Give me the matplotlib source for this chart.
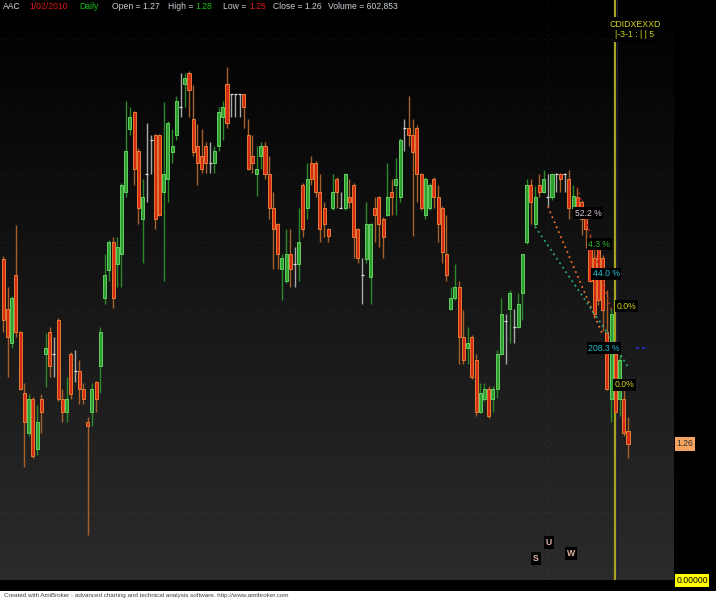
import numpy as np
import matplotlib.pyplot as plt
from matplotlib.colors import LinearSegmentedColormap

plt.rcParams['font.family'] = ['Liberation Sans', 'DejaVu Sans']

# daily bars, AAC
opens = [1.397, 1.360, 1.335, 1.385, 1.343, 1.298, 1.268, 1.293, 1.256, 1.293,
         1.327, 1.343, 1.327, 1.352, 1.293, 1.284, 1.327, 1.314, 1.314, 1.301,
         1.276, 1.284, 1.306, 1.318, 1.368, 1.389, 1.410, 1.393, 1.401, 1.447,
         1.493, 1.506, 1.477, 1.427, 1.460, 1.485, 1.489, 1.489, 1.447, 1.456,
         1.476, 1.489, 1.510, 1.527, 1.535, 1.501, 1.481, 1.473, 1.481, 1.468,
         1.468, 1.481, 1.502, 1.527, 1.519, 1.519, 1.519, 1.519, 1.489, 1.473,
         1.460, 1.473, 1.481, 1.460, 1.435, 1.423, 1.390, 1.381, 1.401, 1.393,
         1.393, 1.452, 1.435, 1.468, 1.468, 1.447, 1.435, 1.419, 1.435, 1.456,
         1.435, 1.435, 1.443, 1.452, 1.419, 1.385, 1.397, 1.384, 1.435, 1.443,
         1.427, 1.430, 1.447, 1.452, 1.443, 1.494, 1.494, 1.489, 1.494, 1.460,
         1.430, 1.435, 1.456, 1.443, 1.435, 1.401, 1.360, 1.368, 1.376, 1.339,
         1.331, 1.339, 1.322, 1.284, 1.293, 1.301, 1.293, 1.301, 1.327, 1.351,
         1.360, 1.347, 1.347, 1.372, 1.410, 1.452, 1.423, 1.452, 1.447, 1.443,
         1.443, 1.460, 1.460, 1.460, 1.456, 1.435, 1.443, 1.439, 1.427, 1.405,
         1.398, 1.405, 1.398, 1.343, 1.293, 1.327, 1.293, 1.293, 1.270]
highs = [1.399, 1.376, 1.370, 1.422, 1.344, 1.305, 1.297, 1.295, 1.289, 1.297,
         1.342, 1.347, 1.339, 1.353, 1.301, 1.310, 1.328, 1.330, 1.322, 1.305,
         1.280, 1.305, 1.307, 1.347, 1.401, 1.411, 1.413, 1.413, 1.453, 1.514,
         1.510, 1.507, 1.479, 1.456, 1.498, 1.489, 1.490, 1.490, 1.513, 1.499,
         1.493, 1.518, 1.535, 1.535, 1.536, 1.526, 1.497, 1.493, 1.484, 1.484,
         1.481, 1.510, 1.514, 1.539, 1.519, 1.519, 1.519, 1.519, 1.501, 1.489,
         1.481, 1.484, 1.484, 1.473, 1.447, 1.424, 1.401, 1.419, 1.419, 1.406,
         1.435, 1.453, 1.468, 1.473, 1.470, 1.460, 1.439, 1.420, 1.460, 1.458,
         1.447, 1.461, 1.456, 1.453, 1.420, 1.398, 1.439, 1.424, 1.443, 1.444,
         1.428, 1.468, 1.456, 1.472, 1.487, 1.501, 1.518, 1.501, 1.496, 1.461,
         1.458, 1.453, 1.458, 1.452, 1.436, 1.430, 1.376, 1.393, 1.381, 1.359,
         1.347, 1.341, 1.327, 1.305, 1.305, 1.303, 1.303, 1.330, 1.368, 1.356,
         1.374, 1.360, 1.372, 1.401, 1.456, 1.456, 1.451, 1.460, 1.463, 1.460,
         1.461, 1.461, 1.461, 1.461, 1.463, 1.452, 1.450, 1.441, 1.430, 1.415,
         1.404, 1.407, 1.400, 1.374, 1.361, 1.337, 1.326, 1.300, 1.280]
lows = [1.343, 1.310, 1.331, 1.339, 1.300, 1.243, 1.266, 1.250, 1.252, 1.268,
        1.302, 1.310, 1.310, 1.292, 1.276, 1.276, 1.293, 1.306, 1.290, 1.290,
        1.193, 1.273, 1.284, 1.298, 1.364, 1.381, 1.361, 1.376, 1.376, 1.443,
        1.489, 1.452, 1.423, 1.394, 1.439, 1.460, 1.419, 1.429, 1.381, 1.439,
        1.468, 1.485, 1.502, 1.510, 1.502, 1.473, 1.452, 1.461, 1.461, 1.461,
        1.461, 1.477, 1.485, 1.494, 1.502, 1.502, 1.502, 1.494, 1.463, 1.461,
        1.444, 1.464, 1.456, 1.427, 1.390, 1.390, 1.367, 1.379, 1.376, 1.376,
        1.381, 1.413, 1.427, 1.452, 1.443, 1.410, 1.413, 1.410, 1.433, 1.435,
        1.435, 1.433, 1.435, 1.398, 1.394, 1.364, 1.394, 1.364, 1.410, 1.406,
        1.398, 1.429, 1.430, 1.430, 1.439, 1.477, 1.481, 1.414, 1.439, 1.433,
        1.427, 1.433, 1.435, 1.410, 1.394, 1.381, 1.359, 1.367, 1.319, 1.319,
        1.319, 1.308, 1.281, 1.283, 1.292, 1.279, 1.284, 1.294, 1.326, 1.319,
        1.335, 1.335, 1.346, 1.352, 1.408, 1.423, 1.421, 1.443, 1.446, 1.436,
        1.441, 1.447, 1.447, 1.447, 1.427, 1.433, 1.433, 1.415, 1.405, 1.380,
        1.353, 1.363, 1.344, 1.300, 1.276, 1.283, 1.281, 1.266, 1.250]
closes = [1.352, 1.339, 1.368, 1.343, 1.301, 1.276, 1.293, 1.251, 1.276, 1.284,
          1.331, 1.318, 1.327, 1.293, 1.284, 1.293, 1.297, 1.314, 1.301, 1.293,
          1.273, 1.301, 1.293, 1.343, 1.385, 1.410, 1.368, 1.406, 1.452, 1.477,
          1.502, 1.464, 1.435, 1.443, 1.460, 1.485, 1.427, 1.430, 1.460, 1.498,
          1.481, 1.514, 1.510, 1.531, 1.522, 1.476, 1.468, 1.464, 1.468, 1.468,
          1.477, 1.506, 1.510, 1.498, 1.519, 1.519, 1.519, 1.510, 1.464, 1.468,
          1.464, 1.481, 1.460, 1.435, 1.419, 1.401, 1.398, 1.401, 1.390, 1.393,
          1.410, 1.419, 1.456, 1.456, 1.447, 1.419, 1.423, 1.414, 1.447, 1.447,
          1.435, 1.460, 1.439, 1.413, 1.398, 1.385, 1.423, 1.423, 1.430, 1.423,
          1.413, 1.443, 1.443, 1.456, 1.485, 1.494, 1.489, 1.476, 1.460, 1.435,
          1.456, 1.452, 1.443, 1.423, 1.402, 1.385, 1.368, 1.376, 1.339, 1.322,
          1.335, 1.310, 1.284, 1.298, 1.301, 1.281, 1.301, 1.327, 1.356, 1.351,
          1.372, 1.347, 1.364, 1.401, 1.452, 1.439, 1.443, 1.447, 1.456, 1.443,
          1.460, 1.460, 1.456, 1.460, 1.435, 1.444, 1.435, 1.427, 1.419, 1.381,
          1.356, 1.367, 1.359, 1.301, 1.356, 1.284, 1.322, 1.268, 1.260]

sel_bar = 145          # selected date line
sep_bar = 129          # period separator
grid_prices = [1.21, 1.26, 1.31, 1.36, 1.41, 1.46, 1.51, 1.56]

# harmonic pattern legs (bar, price)
legs = [([129, 142], [1.436, 1.341], '#e8702a'),
        ([126, 143], [1.421, 1.343], '#2aa87a'),
        ([136, 144], [1.450, 1.359], '#b02020'),
        ([143, 148], [1.343, 1.317], '#2aa87a')]
pct_text = ['52.2 %', '4.3 %', '44.0 %', '0.0%', '208.3 %', '0.0%']
pct_bar = [138.6, 141.2, 142.8, 147.6, 142.3, 147.1]
pct_price = [1.431, 1.408, 1.386, 1.362, 1.331, 1.304]
pct_color = ['#dcc8dc', '#33c033', '#22c8e0', '#d4d41e', '#22c0d8', '#d4d41e']
sig_text = ['S', 'U', 'W']
sig_bar = [126.2, 129.2, 134.5]
sig_price = [1.175, 1.187, 1.179]

W, H = 716, 600
fig = plt.figure(figsize=(W / 100, H / 100), dpi=100, facecolor='black')
ax = fig.add_axes([0, 20 / H, 674 / W, 580 / H])

bg = LinearSegmentedColormap.from_list('bg', ['#000000', '#2b2b2b'])
ax.imshow(np.linspace(0, 1, 256).reshape(-1, 1), cmap=bg, aspect='auto',
          extent=[0, 1, 0, 1], transform=ax.transAxes, zorder=0)
ax.set_xlim(-0.78, 158.9)
ax.set_ylim(1.1593, 1.5889)
ax.set_axis_off()

for p in grid_prices:
    ax.axhline(p, color='white', alpha=0.09, lw=0.8, ls=(0, (1, 4)), zorder=1)
ax.axvline(sep_bar, color='white', alpha=0.09, lw=0.8, ls=(0, (1, 4)), zorder=1)
ax.axvline(sel_bar - 0.15, color='#a4a41e', lw=1.6, zorder=1.5)
ax.axvline(sel_bar + 0.45, color='#1c1c44', lw=0.8, zorder=1.5)

o = np.array(opens)
h = np.array(highs)
l = np.array(lows)
c = np.array(closes)
x = np.arange(len(o))
up = c > o
dn = c < o
eq = c == o

wick = np.where(up, '#2a8a2a', np.where(dn, '#a8602a', '#a8a8a8'))
ax.vlines(x, l, h, colors=wick, lw=1.0, zorder=2)
ax.bar(x[up], (c - o)[up], bottom=o[up], width=0.72, color='#2f9e2f',
       edgecolor='#6ee06e', lw=0.6, zorder=3)
ax.bar(x[dn], (o - c)[dn], bottom=c[dn], width=0.72, color='#d42a12',
       edgecolor='#f48a3a', lw=0.6, zorder=3)
ax.hlines(o[eq], x[eq] - 0.35, x[eq] + 0.35, colors='#dddddd', lw=0.9, zorder=3)

for lx, ly, col in legs:
    ax.plot(lx, ly, color=col, lw=1.3, ls=(0, (1, 2)), zorder=4)
ax.plot([149.9, 152.8], [1.331, 1.331], color='#2a2ad0', lw=1.2, ls=(0, (2, 1.5)), zorder=4)

for t, b, p, col in zip(pct_text, pct_bar, pct_price, pct_color):
    ax.text(b, p, t, color=col, fontsize=6.2, ha='center', va='center', zorder=5,
            bbox=dict(facecolor='black', edgecolor='none', pad=1.2))
for t, b, p in zip(sig_text, sig_bar, sig_price):
    ax.text(b, p, t, color='#e8b8a8', fontsize=6.2, fontweight='bold', ha='center',
            va='center', zorder=5, bbox=dict(facecolor='black', edgecolor='none', pad=1.5))


def ftext(px, py, s, **kw):
    fig.text(px / W, 1 - py / H, s, va='center', **kw)


# title line
hdr = [(3, 'AAC', '#d0d8e0'), (29, '1/02/2010', '#e01818'), (79, 'Daily', '#18c018'),
       (112, 'Open = 1.27', '#c8d0d8'), (168, 'High =', '#c8d0d8'), (195, '1.28', '#18c018'),
       (223, 'Low =', '#c8d0d8'), (249, '1.25', '#e01818'), (273, 'Close = 1.26', '#c8d0d8'),
       (328, 'Volume = 602,853', '#c8d0d8')]
for px, s, col in hdr:
    ftext(px, 6.5, s, color=col, fontsize=6.2)

ftext(635, 24.5, 'CDIDXEXXD', color='#d4d41e', fontsize=6.3, ha='center',
      bbox=dict(facecolor='black', edgecolor='none', pad=2))
ftext(635, 34.5, '|-3-1 : | | 5', color='#d4d41e', fontsize=6.3, ha='center',
      bbox=dict(facecolor='black', edgecolor='none', pad=2))

# value labels on the right
ftext(685, 444, '1.26', color='#303030', fontsize=6.2, ha='center',
      bbox=dict(facecolor='#f4a460', edgecolor='none', pad=1.5))
ftext(692, 580.5, '0.00000', color='black', fontsize=6.2, ha='center',
      bbox=dict(facecolor='#ffff00', edgecolor='none', pad=1.2))

fig.patches.append(plt.Rectangle((0, 0), 1, 9 / H, transform=fig.transFigure,
                                 facecolor='white', edgecolor='none'))
ftext(4, 595.5, 'Created with AmiBroker - advanced charting and technical analysis '
      'software. http://www.amibroker.com', color='#404040', fontsize=4.5)

fig.savefig('out.png', dpi=100, facecolor='black')
